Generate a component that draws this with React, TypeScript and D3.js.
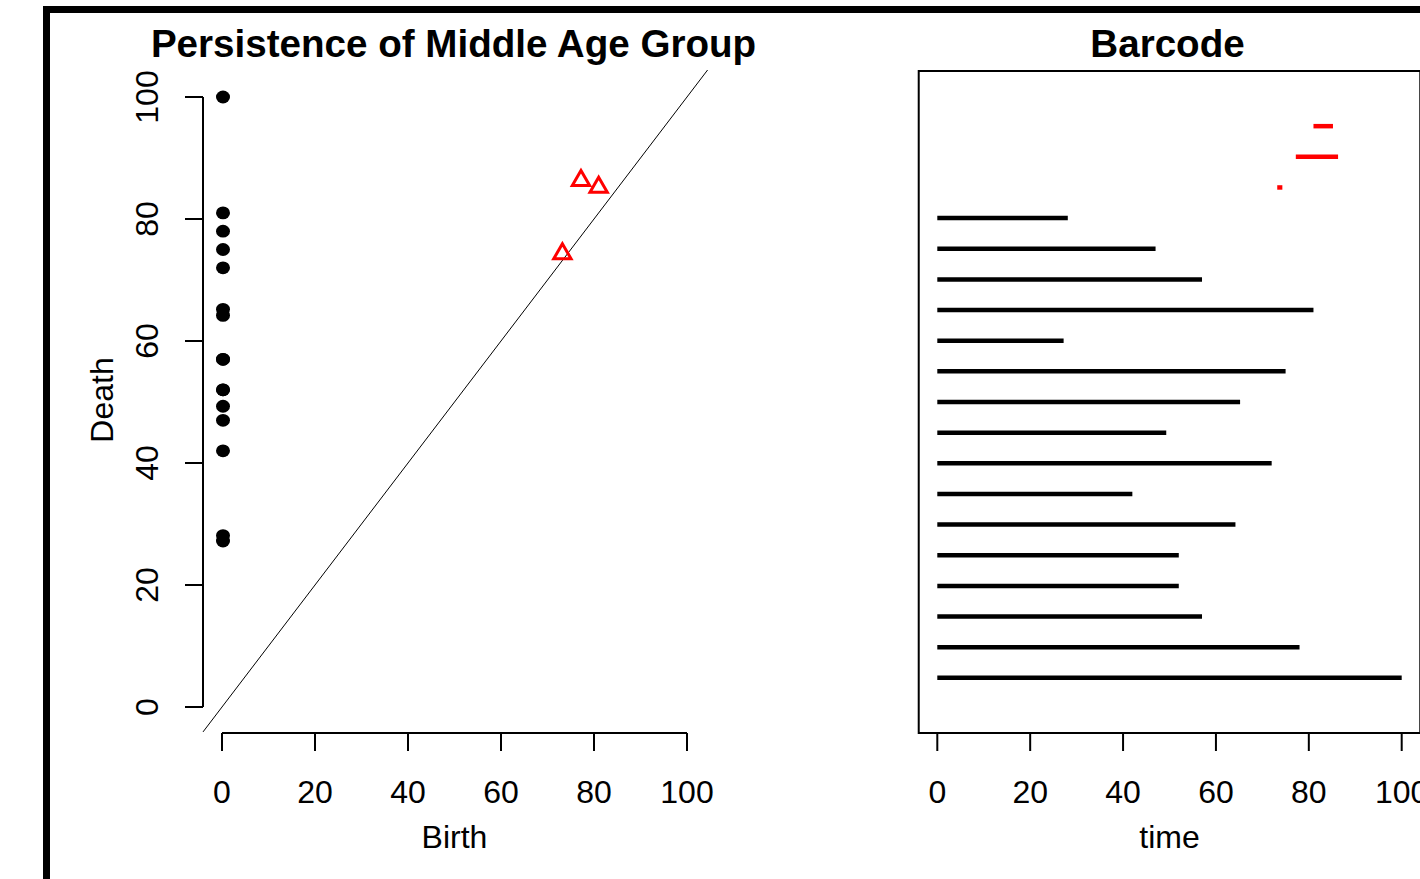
import React from "react";
import * as d3 from "d3";

// ---- data ----
const ticks = [0, 20, 40, 60, 80, 100];
// dimension 0 features (birth = 0), in barcode order (bottom -> top)
const dim0Birth = [0, 0, 0, 0, 0, 0, 0, 0, 0, 0, 0, 0, 0, 0, 0, 0];
const dim0Death = [100, 78, 57, 52, 52, 64.2, 42, 72, 49.3, 65.2, 75, 27.2, 81, 57, 47, 28.1];
// dimension 1 features
const dim1Birth = [73.2, 77.2, 81.0];
const dim1Death = [74.3, 86.3, 85.2];

const titleLeft = "Persistence of Middle Age Group";
const titleRight = "Barcode";
const xLabelLeft = "Birth";
const yLabelLeft = "Death";
const xLabelRight = "time";

const W = 1420;
const H = 879;
const FONT = "'Liberation Sans', Arial, sans-serif";

export default function App() {
  // left panel scales
  const xL = d3.scaleLinear().domain([0, 100]).range([222, 687]);
  const yL = d3.scaleLinear().domain([0, 100]).range([707, 97]);
  const leftRegion = { x0: 203, x1: 708, y0: 70, y1: 733 };

  // right panel scales
  const xR = d3.scaleLinear().domain([0, 100]).range([937.3, 1401.7]);
  const nBars = dim0Death.length + dim1Death.length;
  const yR = d3.scaleLinear().domain([-0.04 * (nBars + 1), (nBars + 1) * 1.04]).range([733, 71]);

  const tri = d3.symbol().type(d3.symbolTriangle).size(3 * Math.sqrt(3) * 5.0 * 5.0)() as string;

  const diagLo = xL.invert(leftRegion.x0);
  const diagHi = Math.min(xL.invert(leftRegion.x1), yL.invert(leftRegion.y0));

  const bars = [
    ...dim0Death.map((d, i) => ({ b: dim0Birth[i], d, dim: 0 })),
    ...dim1Death.map((d, i) => ({ b: dim1Birth[i], d, dim: 1 })),
  ];

  return (
    <svg
      width={W}
      height={H}
      style={{ position: "absolute", left: 0, top: 0, display: "block", background: "#fff" }}
      fontFamily={FONT}
    >
      <rect x={0} y={0} width={W} height={H} fill="#fff" />
      {/* outer thick frame */}
      <rect x={46.5} y={9.5} width={W + 100} height={H + 100} fill="none" stroke="#000" strokeWidth={7} />

      {/* ===== Left panel: persistence diagram ===== */}
      <text x={453.5} y={57} textAnchor="middle" fontSize={38.6} fontWeight="bold" fill="#000">
        {titleLeft}
      </text>
      {/* diagonal */}
      <line
        x1={xL(diagLo)}
        y1={yL(diagLo)}
        x2={xL(diagHi)}
        y2={yL(diagHi)}
        stroke="#000"
        strokeWidth={1}
      />
      {/* x axis */}
      <line x1={xL(0)} x2={xL(100)} y1={733} y2={733} stroke="#000" strokeWidth={2} />
      {ticks.map((t) => (
        <g key={"xl" + t}>
          <line x1={xL(t)} x2={xL(t)} y1={733} y2={751} stroke="#000" strokeWidth={2} />
          <text x={xL(t)} y={803} textAnchor="middle" fontSize={32} fill="#000">
            {t}
          </text>
        </g>
      ))}
      <text x={454.5} y={848} textAnchor="middle" fontSize={32} fill="#000">
        {xLabelLeft}
      </text>
      {/* y axis */}
      <line x1={203} x2={203} y1={yL(0)} y2={yL(100)} stroke="#000" strokeWidth={2} />
      {ticks.map((t) => (
        <g key={"yl" + t}>
          <line x1={203} x2={185} y1={yL(t)} y2={yL(t)} stroke="#000" strokeWidth={2} />
          <text
            transform={`translate(158,${yL(t)}) rotate(-90)`}
            textAnchor="middle"
            fontSize={32}
            fill="#000"
          >
            {t}
          </text>
        </g>
      ))}
      <text transform={`translate(113,400) rotate(-90)`} textAnchor="middle" fontSize={32} fill="#000">
        {yLabelLeft}
      </text>
      {/* dim 0 points */}
      {dim0Death.map((d, i) => (
        <ellipse key={"p" + i} cx={xL(dim0Birth[i]) + 1} cy={yL(d)} rx={7} ry={6.4} fill="#000" />
      ))}
      {/* dim 1 triangles */}
      {dim1Death.map((d, i) => (
        <path
          key={"t" + i}
          d={tri}
          transform={`translate(${xL(dim1Birth[i])},${yL(d)})`}
          fill="none"
          stroke="#ff0000"
          strokeWidth={3}
        />
      ))}

      {/* ===== Right panel: barcode ===== */}
      <text x={1167.5} y={57} textAnchor="middle" fontSize={38.6} fontWeight="bold" fill="#000">
        {titleRight}
      </text>
      <rect
        x={xR(-4)}
        y={71}
        width={xR(104) - xR(-4)}
        height={733 - 71}
        fill="none"
        stroke="#000"
        strokeWidth={2}
      />
      {bars.map((bar, i) => (
        <line
          key={"b" + i}
          x1={xR(bar.b)}
          x2={xR(bar.d)}
          y1={yR(i + 1)}
          y2={yR(i + 1)}
          stroke={bar.dim === 0 ? "#000" : "#ff0000"}
          strokeWidth={4.5}
        />
      ))}
      {ticks.map((t) => (
        <g key={"xr" + t}>
          <line x1={xR(t)} x2={xR(t)} y1={733} y2={751} stroke="#000" strokeWidth={2} />
          <text x={xR(t)} y={803} textAnchor="middle" fontSize={32} fill="#000">
            {t}
          </text>
        </g>
      ))}
      <text x={1169.5} y={848} textAnchor="middle" fontSize={32} fill="#000">
        {xLabelRight}
      </text>
    </svg>
  );
}
